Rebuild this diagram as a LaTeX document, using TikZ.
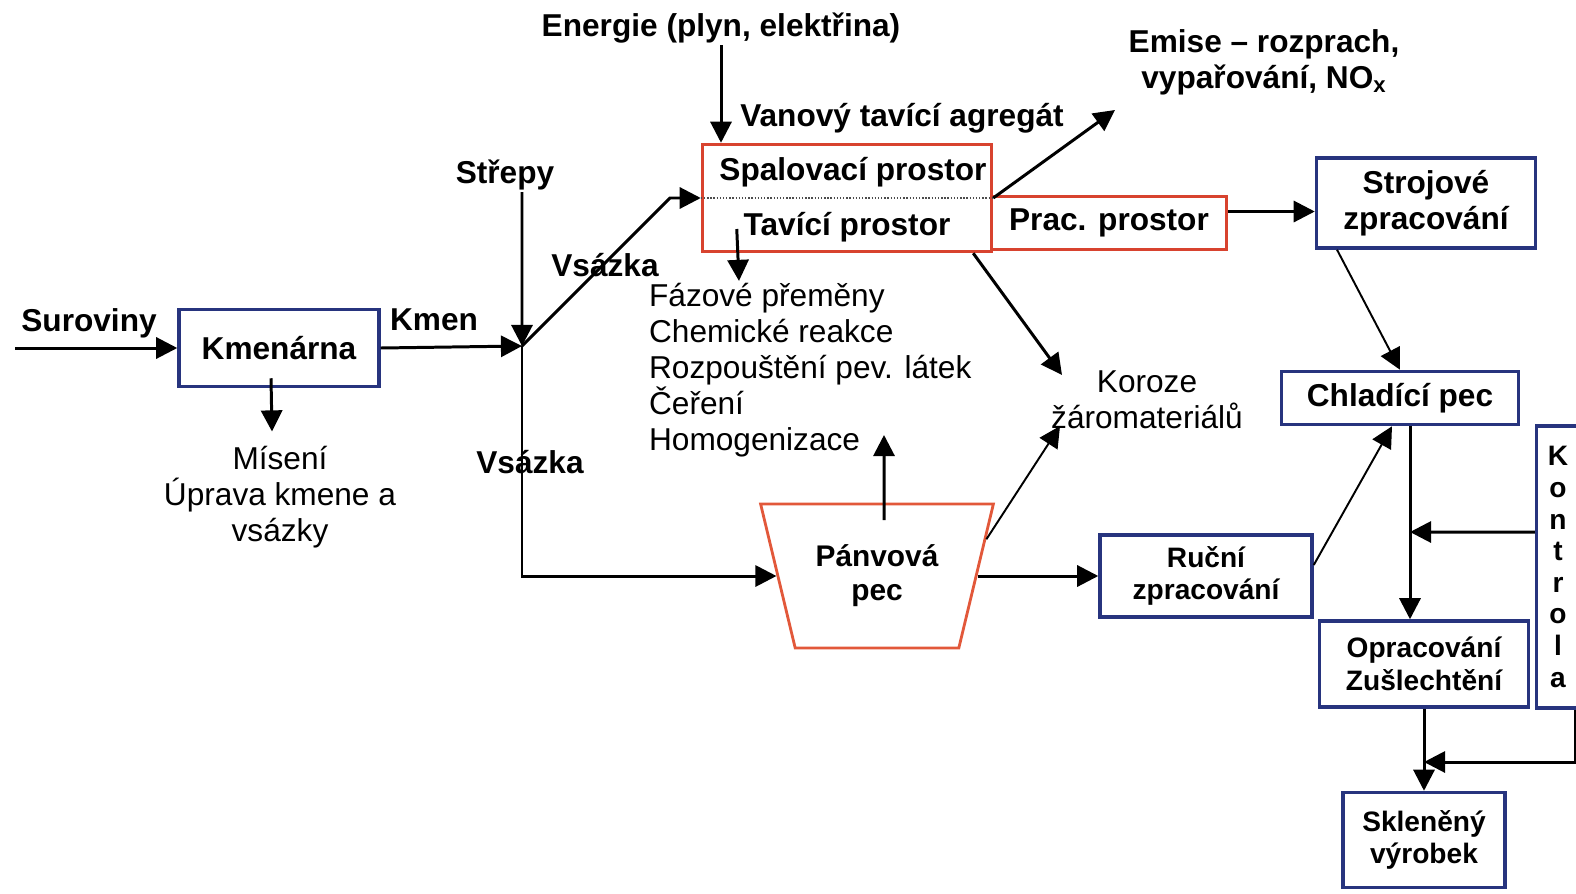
\documentclass[tikz,border=0pt]{standalone}
\usepackage{fontspec}
\setmainfont{Liberation Sans}
\usetikzlibrary{arrows.meta, positioning, calc, shapes.geometric}
\definecolor{boxblue}{HTML}{27347E}
\definecolor{boxred}{HTML}{D8432F}
\definecolor{panred}{HTML}{E2583A}

\begin{document}
\begin{tikzpicture}[
    x=0.02cm, y=-0.02cm,
    font=\fontsize{18}{20.5}\selectfont,
    lbl/.style={font=\fontsize{18}{20.5}\selectfont\bfseries, inner sep=1pt},
    txt/.style={inner sep=1pt, align=left},
    bluebox/.style={draw=boxblue, line width=2pt, align=center, inner sep=2pt,
                    font=\fontsize{18}{20.5}\selectfont\bfseries},
    smallbox/.style={bluebox, font=\fontsize{16}{18.5}\selectfont\bfseries},
    redbox/.style={draw=boxred, line width=2pt, inner sep=2pt,
                   font=\fontsize{18}{20.5}\selectfont\bfseries},
    flow/.style={-{Triangle[length=12pt,width=12pt]}, line width=1.7pt},
    thinflow/.style={flow, line width=1.1pt}
]
\useasboundingbox (0,0) rectangle (1576,893);
\clip (0,0) rectangle (1576,893);

\node[bluebox, minimum width=4cm, minimum height=1.54cm] (kmenarna) at (279,348) {Kmenárna};
\node[redbox, minimum width=5.78cm, minimum height=2.14cm] (tank) at (847,198) {};
\node[redbox, minimum width=4.7cm, minimum height=1.06cm] (prac) at (1109,223) {Prac. prostor};
\node[bluebox, minimum width=4.38cm, minimum height=1.8cm] (strojove) at (1426,203) {Strojové\\zpracování};
\node[bluebox, minimum width=4.74cm, minimum height=1.06cm] (chladici) at (1400,398) {Chladící pec};
\node[smallbox, minimum width=4.24cm, minimum height=1.64cm] (rucni) at (1206,576) {Ruční\\zpracování};
\node[smallbox, minimum width=4.18cm, minimum height=1.72cm] (opracovani) at (1424,664) {Opracování\\Zušlechtění};
\node[smallbox, minimum width=3.24cm, minimum height=1.9cm] (sklen) at (1424,840) {Skleněný\\výrobek};
\node[smallbox, minimum width=0.86cm, minimum height=5.64cm,
      font=\fontsize{16}{18}\selectfont\bfseries] (kontrola) at (1558,567) {K\\o\\n\\t\\r\\o\\l\\a};
\node[trapezium, draw=panred, line width=1.6pt, trapezium left angle=111,
      trapezium right angle=111, trapezium stretches=true, minimum width=4.66cm,
      minimum height=2.88cm, align=center, font=\fontsize{17}{19.5}\selectfont\bfseries] (panev) at (877,576) {Pánvová\\pec};

\node[lbl] (surov) at (89,323) {Suroviny};
\node[lbl] (kmen) at (434,320) {Kmen};
\node[lbl] (strepy) at (505,175) {Střepy};
\node[lbl] (vsazka1) at (605,265) {Vsázka};
\node[lbl] (vsazka2) at (530,462) {Vsázka};
\node[lbl] (energie) at (721,28) {Energie (plyn, elektřina)};
\node[lbl] (vanovy) at (902,118) {Vanový tavící agregát};
\node[lbl, align=center] (emise) at (1264,62) {Emise – rozprach,\\vypařování, NO\textsubscript{x}};
\node[lbl] (spal) at (853,172) {Spalovací prostor};
\node[lbl] (tavi) at (847,227) {Tavící prostor};
\node[txt, align=center] (misen) at (280,497) {Mísení\\Úprava kmene a\\vsázky};
\node[txt, anchor=west] (faze) at (647,370) {Fázové přeměny\\Chemické reakce\\Rozpouštění pev. látek\\Čeření\\Homogenizace};
\node[txt, align=center] (koroze) at (1147,400) {Koroze\\žáromateriálů};

\coordinate (surin) at (15,348);
\coordinate (split) at (522,346);
\coordinate (bend) at (670,198);
\coordinate (emtip) at (1115,110);
\coordinate (kortop) at (1062,375);
\coordinate (korbot) at (1060,426);
\coordinate (homtip) at (884,435);
\coordinate (kjoin) at (1410,532);
\coordinate (kret) at (1424,762);

\draw[densely dotted, line width=0.8pt, black!70] (tank.west) -- (tank.east);

\draw[flow] (surin) -- (kmenarna.west);
\draw[flow] ([xshift=-0.16cm,yshift=0.2cm]kmenarna.south) -- ([xshift=-0.16cm,yshift=0.25cm]misen.north);
\draw[flow] (kmenarna.east) -- (split);
\draw[flow] ([xshift=0.34cm]strepy.south) -- (split);
\draw[flow] (split) -- (bend) -- (tank.west);
\draw[flow] (split) |- (panev.west);
\draw[flow] (energie.south) -- (energie.south |- tank.north);
\draw[flow] (tank.east) -- (emtip);
\draw[flow] ([xshift=-0.4cm]tank.south east) -- (kortop);
\draw[flow] ([xshift=0.72cm,yshift=-0.62cm]tank.west) -- ([xshift=1.84cm]faze.north west);
\draw[flow] ([yshift=0.23cm]prac.east) -- ([yshift=0.23cm]prac.east -| strojove.west);
\draw[thinflow] ([xshift=-1.78cm]strojove.south) -- (chladici.north);
\draw[flow] ([xshift=0.2cm]chladici.south) -- ([xshift=0.2cm]chladici.south |- opracovani.north);
\draw[flow] ([yshift=0.7cm]kontrola.west) -- (kjoin);
\draw[flow] (opracovani.south) -- (sklen.north);
\draw[flow] ([xshift=-0.12cm]kontrola.south east) |- (kret);
\draw[flow] (panev.east) -- (panev.east -| rucni.west);
\draw[thinflow] ([yshift=0.22cm]rucni.east) -- ([xshift=-0.16cm]chladici.south);
\draw[thinflow] ($(panev.top right corner)!0.25!(panev.bottom right corner)$) -- (korbot);
\draw[flow] ([xshift=0.14cm,yshift=-0.35cm]panev.north) -- (homtip);

\end{tikzpicture}
\end{document}
